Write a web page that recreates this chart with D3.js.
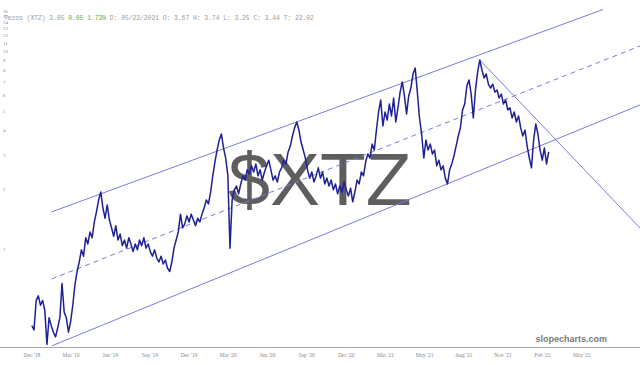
<!DOCTYPE html>
<html>
<head>
<meta charset="utf-8">
<script src="https://cdn.jsdelivr.net/npm/d3@7"></script>
<style>
  body { margin: 0; background: #fff; }
  svg { display: block; }
</style>
</head>
<body>
<div id="chart"></div>
<script>
// XTZ closes, one every 5 days starting 2018-12-01
var price_start = new Date(2018, 11, 1);
var price_step_days = 5;
var prices = [
  0.41, 0.39, 0.55, 0.58, 0.52, 0.55, 0.49, 0.33, 0.45, 0.41,
  0.38, 0.36, 0.40, 0.45, 0.67, 0.48, 0.45, 0.38, 0.43, 0.52,
  0.66, 0.77, 0.86, 0.99, 0.92, 1.14, 1.06, 1.22, 1.14, 1.37,
  1.54, 1.77, 1.94, 1.61, 1.43, 1.67, 1.40, 1.28, 1.16, 1.31,
  1.11, 1.19, 1.04, 1.11, 1.01, 1.14, 1.06, 0.97, 1.06, 0.99,
  1.11, 1.04, 1.14, 1.01, 1.06, 0.97, 0.92, 0.99, 0.90, 0.86,
  0.92, 0.84, 0.88, 0.80, 0.77, 0.86, 1.01, 1.11, 1.22, 1.50,
  1.28, 1.34, 1.47, 1.37, 1.50, 1.40, 1.31, 1.43, 1.37, 1.50,
  1.61, 1.77, 1.69, 1.94, 2.34, 2.75, 3.16, 3.55, 3.81, 3.24,
  2.88, 2.36, 1.01, 1.77, 1.99, 2.08, 1.90, 2.13, 2.34, 2.23,
  2.51, 2.39, 2.63, 2.45, 2.69, 2.34, 2.51, 2.23, 2.45, 2.63,
  2.81, 2.51, 2.23, 2.34, 2.18, 2.45, 2.57, 2.81, 2.69, 3.09,
  3.31, 3.72, 4.09, 4.38, 3.99, 3.47, 3.16, 2.88, 2.51, 2.28,
  2.45, 2.18, 2.34, 2.57, 2.28, 2.45, 2.13, 2.28, 2.08, 2.23,
  1.99, 2.13, 1.90, 2.08, 1.94, 2.18, 1.99, 1.85, 2.03, 1.73,
  1.94, 2.23, 2.13, 2.45, 2.34, 2.75, 3.02, 2.88, 3.39, 3.16,
  3.99, 4.92, 5.66, 4.18, 4.92, 4.48, 5.40, 4.70, 5.79, 4.38,
  5.16, 6.20, 6.98, 5.93, 4.81, 5.93, 6.50, 7.66, 8.21, 6.20,
  4.59, 3.81, 2.88, 3.55, 3.16, 3.39, 3.02, 3.16, 2.63, 2.81,
  2.51, 2.63, 2.28, 2.13, 2.51, 2.69, 2.95, 3.31, 3.72, 4.09,
  5.04, 5.40, 6.65, 7.14, 6.06, 4.59, 6.35, 7.84, 9.01, 8.02,
  7.31, 7.66, 6.81, 6.50, 6.81, 6.20, 6.35, 5.79, 6.06, 5.40,
  5.66, 5.04, 5.16, 4.59, 4.92, 4.38, 4.70, 4.09, 3.72, 3.99,
  3.31, 2.88, 2.57, 3.55, 4.28, 3.81, 3.16, 2.81, 3.24, 2.69,
  3.09
];

// drawn trend lines: [date, price] end points
var channel_upper = [[new Date(2019, 0, 16), 1.54], [new Date(2022, 6, 19), 16.2]];
var channel_middle = [[new Date(2019, 0, 16), 0.706], [new Date(2022, 9, 13), 10.6]];
var channel_lower = [[new Date(2019, 0, 16), 0.324], [new Date(2022, 9, 13), 5.34]];
var resistance = [[new Date(2021, 9, 6), 9.01], [new Date(2022, 9, 13), 1.277]];

var y_ticks = [1, 2, 3, 4, 5, 6, 7, 8, 9, 10, 11, 12, 13, 14, 15, 16];
var x_tick_dates = [
  new Date(2018, 11, 1), new Date(2019, 2, 2), new Date(2019, 5, 1), new Date(2019, 8, 1),
  new Date(2019, 11, 1), new Date(2020, 2, 1), new Date(2020, 4, 31), new Date(2020, 7, 30),
  new Date(2020, 10, 30), new Date(2021, 2, 1), new Date(2021, 4, 31), new Date(2021, 7, 30),
  new Date(2021, 10, 29), new Date(2022, 2, 1), new Date(2022, 4, 31)
];
var x_tick_labels = ["Dec '18", "Mar '19", "Jun '19", "Sep '19", "Dec '19", "Mar '20", "Jun '20",
  "Sep '20", "Dec '20", "Mar '21", "May '21", "Aug '21", "Nov '21", "Feb '22", "May '22"];

var header_parts = [
  {text: "Tezos (XTZ) 3.05 ", color: "#9a9a9a"},
  {text: "0.05 1.73%", color: "#4caf50"},
  {text: " D: 05/23/2021 O: 3.67 H: 3.74 L: 3.25 C: 3.44 T: 22.02", color: "#9a9a9a"}
];

function draw_chart(selector) {
  var width = 640, height = 365;
  var axis_y = 347;

  var svg = d3.select(selector).append("svg").attr("width", width).attr("height", height);

  var x = d3.scaleTime().domain([new Date(2018, 8, 18), new Date(2022, 9, 13)]).range([0, width]);
  var y = d3.scaleLog().domain([1, 10]).range([249, 51]);

  var series = prices.map(function(p, i) {
    return {date: d3.timeDay.offset(price_start, i * price_step_days), value: p};
  });

  var plot = svg.append("g");
  plot.append("clipPath").attr("id", "plot_clip").append("rect")
    .attr("x", 0).attr("y", 0).attr("width", width).attr("height", axis_y);

  // watermark sits behind everything
  svg.insert("text", ":first-child")
    .attr("x", 320).attr("y", 205)
    .attr("text-anchor", "middle")
    .style("font-family", "'Liberation Sans', Arial, sans-serif")
    .style("font-size", "75px")
    .style("fill", "#5e5e5e")
    .text("$XTZ");

  // y tick labels
  svg.append("g").selectAll("text").data(y_ticks).enter().append("text")
    .attr("x", 3).attr("y", function(d) { return y(d) + 2; })
    .style("font-family", "'Liberation Serif', serif")
    .style("font-size", "5px")
    .style("fill", "#8a8a8a")
    .text(function(d) { return d; });

  // header
  var header = svg.append("text").attr("x", 4).attr("y", 20)
    .style("font-family", "'Liberation Mono', monospace")
    .style("font-size", "6.3px")
    .attr("xml:space", "preserve");
  header.selectAll("tspan").data(header_parts).enter().append("tspan")
    .style("fill", function(d) { return d.color; })
    .text(function(d) { return d.text; });

  var line = d3.line()
    .x(function(d) { return x(d[0]); })
    .y(function(d) { return y(d[1]); });

  var lines = plot.append("g").attr("clip-path", "url(#plot_clip)")
    .style("fill", "none").style("stroke", "#7b7be0").style("stroke-width", 1);
  lines.append("path").attr("d", line(channel_upper));
  lines.append("path").attr("d", line(channel_middle)).style("stroke-dasharray", "5,4");
  lines.append("path").attr("d", line(channel_lower));
  lines.append("path").attr("d", line(resistance));

  plot.append("path")
    .datum(series)
    .attr("clip-path", "url(#plot_clip)")
    .attr("d", d3.line()
      .x(function(d) { return x(d.date); })
      .y(function(d) { return y(d.value); }))
    .style("fill", "none")
    .style("stroke", "#1f1f96")
    .style("stroke-width", 1.5)
    .style("stroke-linejoin", "round");

  // bottom axis
  svg.append("line")
    .attr("x1", 0).attr("x2", width).attr("y1", axis_y + 0.5).attr("y2", axis_y + 0.5)
    .style("stroke", "#a8a8a8");

  svg.append("g").selectAll("text").data(x_tick_dates).enter().append("text")
    .attr("x", function(d) { return x(d); })
    .attr("y", 357)
    .attr("text-anchor", "middle")
    .style("font-family", "'Liberation Serif', serif")
    .style("font-size", "5.5px")
    .style("fill", "#8a8a8a")
    .text(function(d, i) { return x_tick_labels[i]; });

  svg.append("text")
    .attr("x", 607).attr("y", 342)
    .attr("text-anchor", "end")
    .style("font-family", "'Liberation Sans', Arial, sans-serif")
    .style("font-weight", "bold")
    .style("font-size", "9px")
    .style("fill", "#7a7a7a")
    .text("slopecharts.com");
}

draw_chart("#chart");
</script>
</body>
</html>
